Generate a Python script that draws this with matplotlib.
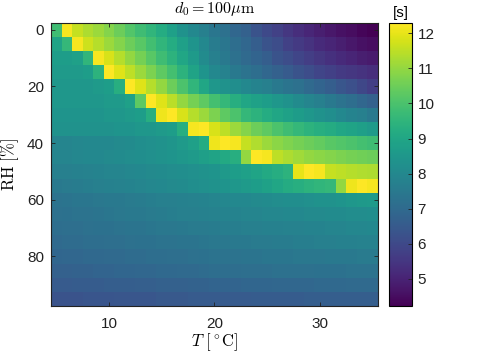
import numpy as np
import matplotlib
matplotlib.use("Agg")
import matplotlib.pyplot as plt

plt.rcParams['mathtext.fontset'] = 'cm'
plt.rcParams['font.family'] = ['Liberation Sans', 'DejaVu Sans']

T = list(range(5, 36))            # temperature [°C]
RH = list(range(0, 100, 5))       # relative humidity [%]

row_00 = [9.8, 12.2, 11.6, 11.3, 11.1, 10.8, 10.5, 10.1, 9.8, 9.5, 9.2, 8.8, 8.3, 8.0, 7.7, 7.4,
          7.2, 6.9, 6.7, 6.3, 6.0, 5.8, 5.5, 5.3, 5.1, 4.9, 4.75, 4.6, 4.5, 4.35, 4.25]
row_05 = [8.9, 9.6, 12.2, 11.7, 11.4, 11.1, 10.8, 10.5, 10.2, 9.85, 9.5, 9.2, 8.8, 8.4, 8.0, 7.6,
          7.4, 7.1, 6.9, 6.6, 6.3, 6.1, 5.8, 5.6, 5.4, 5.2, 5.05, 4.9, 4.75, 4.6, 4.5]
row_10 = [8.7, 8.7, 8.8, 9.5, 12.2, 11.8, 11.4, 11.0, 10.6, 10.2, 9.8, 9.4, 9.0, 8.6, 8.1, 7.7,
          7.5, 7.2, 7.0, 6.8, 6.6, 6.3, 6.1, 5.9, 5.7, 5.5, 5.35, 5.2, 5.05, 4.9, 4.8]
row_15 = [8.6, 8.6, 8.6, 8.7, 9.4, 12.3, 11.9, 11.5, 11.1, 10.7, 10.3, 9.9, 9.4, 8.9, 8.4, 8.0,
          7.8, 7.5, 7.3, 7.1, 6.9, 6.7, 6.5, 6.3, 6.1, 5.9, 5.75, 5.6, 5.5, 5.4, 5.3]
row_20 = [8.5, 8.5, 8.5, 8.5, 8.6, 8.7, 9.3, 12.3, 11.9, 11.4, 11.0, 10.5, 10.0, 9.5, 9.0, 8.5,
          8.35, 8.2, 8.0, 7.85, 7.7, 7.5, 7.35, 7.2, 7.0, 6.8, 6.6, 6.4, 6.2, 5.95, 5.7]
row_25 = [8.5, 8.5, 8.5, 8.5, 8.5, 8.6, 8.6, 8.8, 10.3, 12.3, 11.9, 11.45, 11.0, 10.6, 10.3, 9.9,
          9.6, 9.3, 9.0, 8.85, 8.7, 8.5, 8.3, 8.1, 7.9, 7.7, 7.5, 7.3, 7.1, 6.9, 6.7]
row_30 = [8.4, 8.4, 8.4, 8.4, 8.4, 8.5, 8.5, 8.6, 8.7, 9.3, 12.1, 12.3, 11.8, 11.4, 11.1, 10.7,
          10.3, 10.0, 9.6, 9.4, 9.2, 9.0, 8.85, 8.65, 8.5, 8.35, 8.2, 8.0, 7.85, 7.7, 7.5]
row_35 = [8.3, 8.3, 8.3, 8.3, 8.3, 8.35, 8.4, 8.4, 8.5, 8.5, 8.6, 8.7, 9.3, 12.2, 12.3, 11.8,
          11.5, 11.1, 10.8, 10.5, 10.3, 10.0, 9.8, 9.6, 9.4, 9.3, 9.15, 9.0, 8.9, 8.75, 8.6]
row_40 = [7.9, 7.9, 7.95, 8.0, 8.0, 8.0, 8.05, 8.1, 8.2, 8.25, 8.3, 8.45, 8.6, 8.8, 9.2, 12.1,
          12.3, 12.2, 11.6, 11.35, 11.1, 10.9, 10.75, 10.6, 10.5, 10.35, 10.2, 10.1, 10.0, 9.9, 9.8]
row_45 = [7.9, 7.9, 7.95, 8.0, 8.0, 8.05, 8.1, 8.15, 8.2, 8.25, 8.3, 8.4, 8.5, 8.6, 8.75, 8.9,
          9.1, 9.3, 11.0, 12.3, 12.2, 11.5, 11.3, 11.15, 11.0, 10.9, 10.8, 10.7, 10.6, 10.55, 10.5]
row_50 = [7.7, 7.7, 7.75, 7.8, 7.85, 7.9, 7.9, 7.95, 8.0, 8.05, 8.1, 8.15, 8.2, 8.25, 8.3, 8.4,
          8.55, 8.7, 8.8, 8.95, 9.1, 9.25, 9.4, 12.0, 12.3, 12.2, 11.6, 11.5, 11.4, 11.35, 11.3]
row_55 = [7.5, 7.55, 7.6, 7.65, 7.7, 7.75, 7.8, 7.85, 7.9, 7.95, 8.0, 8.05, 8.1, 8.2, 8.25, 8.3,
          8.4, 8.5, 8.6, 8.7, 8.85, 9.0, 9.15, 9.3, 9.4, 9.5, 9.6, 11.0, 12.1, 12.3, 12.2]
row_60 = [7.3, 7.35, 7.4, 7.4, 7.45, 7.5, 7.5, 7.55, 7.6, 7.65, 7.7, 7.7, 7.75, 7.8, 7.85, 7.9,
          7.95, 8.0, 8.0, 8.05, 8.1, 8.15, 8.2, 8.2, 8.25, 8.3, 8.35, 8.4, 8.5, 8.55, 8.6]
row_65 = [7.2, 7.25, 7.3, 7.3, 7.35, 7.4, 7.45, 7.5, 7.5, 7.55, 7.6, 7.65, 7.7, 7.7, 7.75, 7.8,
          7.85, 7.85, 7.9, 7.9, 7.95, 7.95, 8.0, 8.0, 8.05, 8.05, 8.1, 8.1, 8.15, 8.15, 8.2]
row_70 = [7.1, 7.15, 7.15, 7.2, 7.25, 7.25, 7.3, 7.35, 7.35, 7.4, 7.45, 7.45, 7.5, 7.55, 7.55, 7.6,
          7.65, 7.65, 7.7, 7.7, 7.75, 7.75, 7.8, 7.8, 7.85, 7.85, 7.9, 7.9, 7.95, 7.95, 8.0]
row_75 = [7.0, 7.05, 7.05, 7.1, 7.1, 7.15, 7.15, 7.2, 7.25, 7.25, 7.3, 7.3, 7.35, 7.35, 7.4, 7.45,
          7.45, 7.5, 7.5, 7.55, 7.55, 7.6, 7.6, 7.65, 7.65, 7.7, 7.7, 7.75, 7.75, 7.8, 7.8]
row_80 = [6.85, 6.9, 6.9, 6.95, 6.95, 7.0, 7.0, 7.05, 7.05, 7.1, 7.1, 7.15, 7.15, 7.2, 7.25, 7.3,
          7.3, 7.3, 7.35, 7.35, 7.4, 7.4, 7.4, 7.45, 7.45, 7.45, 7.5, 7.5, 7.5, 7.55, 7.55]
row_85 = [6.7, 6.7, 6.75, 6.75, 6.8, 6.8, 6.85, 6.85, 6.9, 6.9, 6.95, 6.95, 7.0, 7.0, 7.05, 7.1,
          7.1, 7.1, 7.15, 7.15, 7.15, 7.2, 7.2, 7.2, 7.2, 7.25, 7.25, 7.25, 7.3, 7.3, 7.3]
row_90 = [6.5, 6.5, 6.55, 6.55, 6.55, 6.6, 6.6, 6.6, 6.65, 6.65, 6.7, 6.7, 6.7, 6.75, 6.75, 6.8,
          6.8, 6.8, 6.85, 6.85, 6.85, 6.9, 6.9, 6.9, 6.9, 6.95, 6.95, 6.95, 7.0, 7.0, 7.0]
row_95 = [6.3, 6.3, 6.3, 6.35, 6.35, 6.35, 6.4, 6.4, 6.4, 6.4, 6.45, 6.45, 6.45, 6.5, 6.5, 6.5,
          6.5, 6.5, 6.5, 6.55, 6.55, 6.55, 6.55, 6.55, 6.6, 6.6, 6.6, 6.6, 6.6, 6.6, 6.6]

Z = np.array([row_00, row_05, row_10, row_15, row_20, row_25, row_30, row_35, row_40, row_45,
              row_50, row_55, row_60, row_65, row_70, row_75, row_80, row_85, row_90, row_95])

cbar_ticks = [5, 6, 7, 8, 9, 10, 11, 12]

fig = plt.figure(figsize=(4.88, 3.52), dpi=100)
ax = fig.add_axes([0.1045, 0.1307, 0.6695, 0.8048])
mesh = ax.pcolormesh(T, RH, Z, shading='nearest', cmap='viridis', vmin=4.23, vmax=12.3)
ax.invert_yaxis()
ax.set_xticks([10, 20, 30])
ax.set_yticks([0, 20, 40, 60, 80])
ax.tick_params(direction='in', top=True, right=True, length=3, width=0.6,
               labelsize=11, colors='#222222')
ax.tick_params(axis='x', pad=8)
ax.tick_params(axis='y', pad=5)
for s in ax.spines.values():
    s.set_linewidth(0.8)
    s.set_color('#222222')

ax.set_title(r'$d_0 = 100\mu\mathrm{m}$', fontsize=11.5, pad=7)
ax.set_xlabel(r'$T\ [^\circ\mathrm{C}]$', fontsize=12, labelpad=0)
ax.set_ylabel(r'$\mathrm{RH}\ [\%]$', fontsize=12, labelpad=4)

cax = fig.add_axes([0.797, 0.1307, 0.047, 0.8048])
cb = fig.colorbar(mesh, cax=cax, ticks=cbar_ticks)
cb.outline.set_linewidth(0.8)
cax.tick_params(direction='in', length=3, width=0.6, labelsize=11, pad=4, colors='#222222')
cax.set_title('[s]', fontsize=11, pad=4)

fig.savefig('out.png', dpi=100)
